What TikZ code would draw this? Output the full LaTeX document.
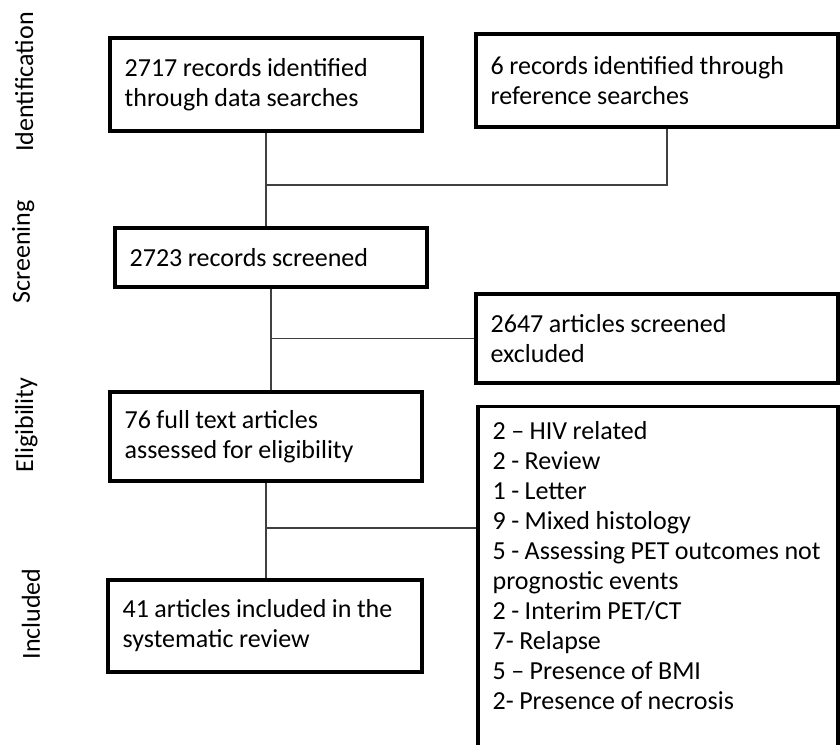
\documentclass[tikz,border=0pt]{standalone}
\usepackage{fontspec}
\setmainfont{Carlito}
\begin{document}
\begin{tikzpicture}[x=0.75pt, y=-0.75pt,
    box/.style={draw=black, line width=2.4pt, rectangle, align=left, inner xsep=11pt, font=\fontsize{19.5}{22.5}\selectfont, execute at begin node={\spaceskip=4.1pt\relax}},
    link/.style={draw=black!75, line width=1pt},
    phase/.style={rotate=90, anchor=base, font=\fontsize{19.5}{22.5}\selectfont}]
    \useasboundingbox (0,0) rectangle (840,745);

    % phase labels
    \node[phase] (lid) at (33,82) {Identification};
    \node[phase] (lscr) at (30,252) {Screening};
    \node[phase] (lel) at (33,425) {Eligibility};
    \node[phase] (linc) at (40,614) {Included};

    % boxes
    \node[box, text width=212pt, minimum height=69.75pt] (ident) at (266,84.5) {2717 records identified\\through data searches};
    \node[box, text width=249.5pt, minimum height=69.75pt] (ref) at (657,80.5) {6 records identified through\\reference searches};
    \node[box, text width=212pt, minimum height=44.25pt] (screen) at (271,257.5) {2723 records screened};
    \node[box, text width=249.5pt, minimum height=66.75pt] (excl) at (657,338.5) {2647 articles screened\\excluded};
    \node[box, text width=212pt, minimum height=66.75pt] (elig) at (266,436.5) {76 full text articles\\assessed for eligibility};
    \node[box, text width=213.5pt, minimum height=69pt] (incl) at (265,626) {41 articles included in the\\systematic review};
    \node[box, inner ysep=11pt, text width=248pt, text depth=265pt, anchor=north] (reasons) at (658,405)
        {2 – HIV related\\2 - Review\\1 - Letter\\9 - Mixed histology\\\mbox{5 - Assessing PET outcomes not}\\prognostic events\\2 - Interim PET/CT\\7- Relapse\\5 – Presence of BMI\\2- Presence of necrosis};

    % connectors
    \coordinate (j1) at (266,185);
    \coordinate (j3) at (266,528);
    \draw[link] (ident.south) -- (ident.south |- screen.north);
    \draw[link] ([xshift=7.5pt]ref.south) |- (j1);
    \draw[link] (screen.south) -- (screen.south |- elig.north);
    \draw[link] (screen.south |- excl.west) -- (excl.west);
    \draw[link] (elig.south) -- (elig.south |- incl.north);
    \draw[link] (j3) -- (j3 -| reasons.west);

\end{tikzpicture}
\end{document}
